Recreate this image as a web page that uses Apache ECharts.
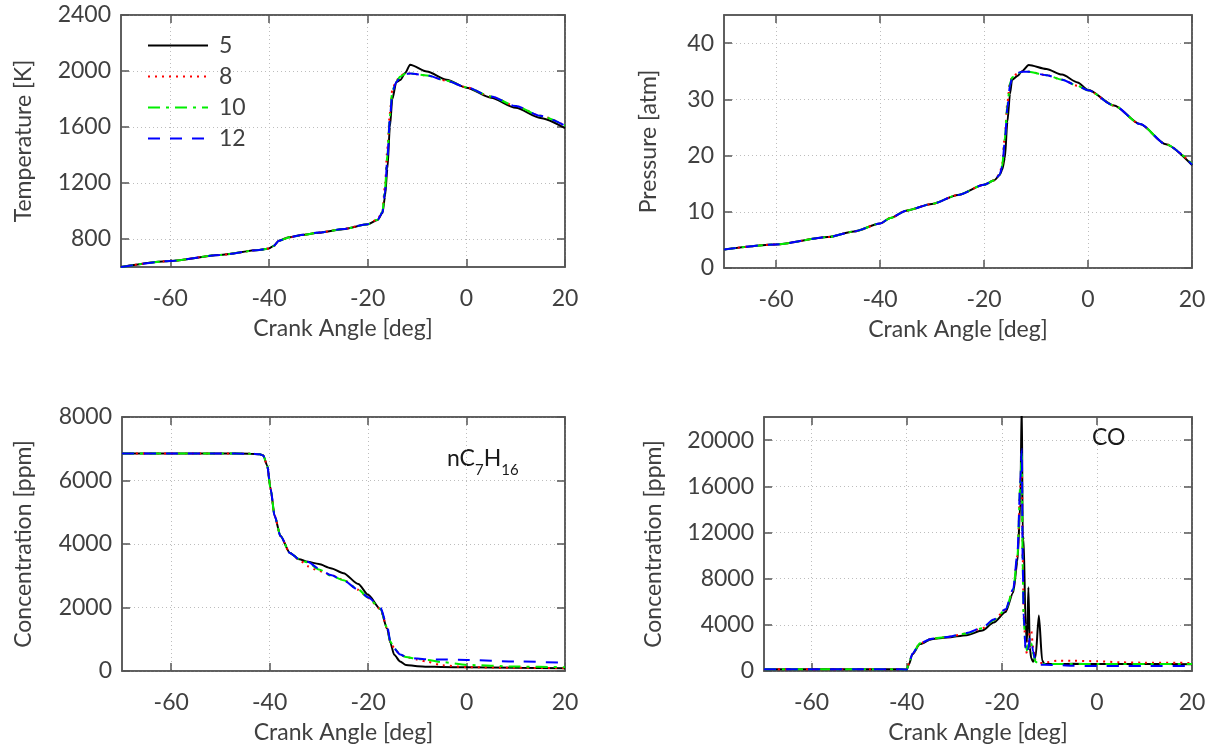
<!DOCTYPE html>
<html>
<head>
<meta charset="utf-8">
<script src="https://cdn.jsdelivr.net/npm/echarts@6/dist/echarts.min.js"></script>
<style>
  html, body { margin: 0; padding: 0; background: #fff; }
  #chart { width: 1220px; height: 754px; }
</style>
</head>
<body>
<div id="chart"></div>
<script>
// series names (legend)
const names = ['5', '8', '10', '12']

// temperature panel
const tAngle = [-70, -60, -50, -42, -40, -39, -38, -36, -33, -30, -25, -20, -18, -17, -16.5, -16, -15.5, -15, -14.2, -13.4, -12.4, -11.4, -8, -4, 0, 5, 10, 15, 20]
const temp5 = [600, 643, 686, 721, 733, 752, 788, 812, 830, 845, 870, 905, 935, 985, 1100, 1300, 1600, 1800, 1921, 1935, 1985, 2045, 1996, 1938, 1881, 1809, 1737, 1665, 1592]
const temp8 = [600, 643, 686, 721, 732, 750, 785, 810, 830, 846, 872, 906, 940, 1000, 1180, 1450, 1700, 1870, 1930, 1965, 1982, 1982, 1968, 1930, 1884, 1818, 1750, 1680, 1610]
const temp10 = [600, 643, 686, 721, 732, 751, 786, 811, 829, 845, 871, 905, 938, 995, 1150, 1400, 1680, 1860, 1925, 1960, 1980, 1982, 1968, 1930, 1884, 1818, 1750, 1680, 1610]
const temp12 = [600, 643, 686, 721, 733, 752, 787, 812, 830, 846, 871, 906, 937, 990, 1130, 1380, 1660, 1850, 1920, 1955, 1978, 1982, 1968, 1930, 1884, 1818, 1750, 1680, 1610]

// pressure panel
const pAngle = [-70, -60, -50, -45, -40, -38, -35, -30, -25, -20, -18, -17, -16.5, -16, -15.5, -15, -14.6, -13.5, -12.7, -11.4, -8, -5, -2, 0, 5, 10, 15, 20]
const pres5 = [3.3, 4.2, 5.5, 6.5, 7.9, 8.9, 10.2, 11.4, 13.0, 14.8, 15.6, 16.5, 17.5, 19.5, 26, 31, 33.5, 34.2, 35, 36.1, 35.4, 34.4, 33.0, 31.7, 28.9, 25.6, 22.0, 18.3]
const pres8 = [3.3, 4.2, 5.5, 6.5, 7.9, 8.9, 10.2, 11.4, 13.0, 14.8, 15.6, 16.7, 18.5, 23.5, 29.5, 33, 34, 34.6, 34.9, 34.9, 34.3, 33.5, 32.4, 31.6, 28.9, 25.6, 22.0, 18.5]
const pres10 = [3.3, 4.2, 5.5, 6.5, 7.9, 8.9, 10.2, 11.4, 13.0, 14.8, 15.6, 16.6, 18.2, 23, 29, 32.8, 33.9, 34.6, 34.9, 34.9, 34.3, 33.5, 32.4, 31.6, 28.9, 25.6, 22.0, 18.5]
const pres12 = [3.3, 4.2, 5.5, 6.5, 7.9, 8.9, 10.2, 11.4, 13.0, 14.8, 15.6, 16.6, 18.0, 22.5, 28.5, 32.5, 33.8, 34.7, 34.9, 34.9, 34.3, 33.5, 32.4, 31.6, 28.9, 25.6, 22.0, 18.4]

// nC7H16 panel
const nAngle = [-70, -60, -50, -44, -42, -41.3, -40.5, -39.8, -39, -37.8, -35.9, -34, -32.3, -30, -27.6, -25, -22, -20, -17.5, -16.1, -15.5, -14.7, -13.5, -12.3, -10, -8, -5, 0, 10, 20]
const hept5 = [6850, 6850, 6850, 6845, 6830, 6790, 6470, 5730, 4890, 4250, 3720, 3520, 3440, 3370, 3240, 3080, 2740, 2400, 1950, 1320, 900, 510, 300, 190, 150, 135, 125, 115, 100, 90]
const hept8 = [6850, 6850, 6850, 6845, 6830, 6790, 6470, 5730, 4890, 4250, 3720, 3500, 3300, 3150, 3030, 2870, 2560, 2300, 1950, 1330, 930, 720, 520, 440, 360, 290, 180, 120, 100, 90]
const hept10 = [6850, 6850, 6850, 6845, 6830, 6790, 6470, 5730, 4890, 4250, 3720, 3520, 3420, 3200, 3010, 2860, 2570, 2310, 1960, 1340, 930, 720, 520, 440, 380, 350, 280, 190, 140, 120]
const hept12 = [6850, 6850, 6850, 6845, 6830, 6790, 6470, 5730, 4890, 4250, 3720, 3520, 3440, 3230, 3020, 2850, 2560, 2320, 1990, 1400, 960, 700, 520, 450, 390, 370, 360, 350, 300, 260]

// CO panel
const cAngle = [-70, -50, -41, -40, -39.5, -38.8, -37.2, -34.7, -31.5, -27.4, -24.1, -21.7, -19.2, -17.6, -16.7, -16.1, -15.8, -15.6, -15.4, -15.0, -14.7, -14.4, -14.1, -13.8, -13.4, -12.9, -12.2, -11.5, -11, -8, -5, 0, 5, 10, 20]
const co5 = [150, 150, 150, 100, 600, 1450, 2330, 2760, 2900, 3100, 3500, 4200, 5100, 6800, 9500, 14500, 23500, 11700, 11400, 4000, 2500, 7250, 2000, 1100, 800, 1200, 4800, 900, 600, 600, 620, 600, 600, 600, 590]
const co8 = [150, 150, 150, 120, 650, 1500, 2400, 2800, 2950, 3250, 3700, 4400, 5300, 7000, 10000, 16000, 18500, 10000, 5000, 2000, 1500, 2500, 3500, 3480, 2000, 900, 700, 700, 750, 900, 880, 850, 750, 720, 700]
const co10 = [150, 150, 150, 120, 650, 1500, 2400, 2800, 2950, 3250, 3700, 4400, 5300, 7000, 10000, 16200, 19000, 9000, 4500, 2200, 1800, 2300, 2600, 2400, 1500, 800, 600, 600, 600, 600, 600, 600, 600, 600, 600]
const co12 = [150, 150, 150, 120, 650, 1500, 2400, 2800, 2950, 3300, 3750, 4450, 5350, 7100, 10200, 16500, 19200, 9500, 4800, 2000, 1500, 2000, 2900, 2600, 1700, 800, 550, 550, 550, 500, 450, 430, 430, 430, 430]

// tick values
const xTicks = [-60, -40, -20, 0, 20]
const tTicks = [800, 1200, 1600, 2000, 2400]
const pTicks = [0, 10, 20, 30, 40]
const nTicks = [0, 2000, 4000, 6000, 8000]
const cTicks = [0, 4000, 8000, 12000, 16000, 20000]

const FONT = 'Lato'
const FS = 23
const TEXT = '#404040'
const FRAME = '#555'

const styles = [
  { color: '#000000', type: 'solid' },
  { color: '#ff0000', type: [2, 5] },
  { color: '#00ee00', type: [12, 6, 3, 6] },
  { color: '#0000ff', type: [12, 10] }
]

function pairs (xs, ys) {
  return xs.map((x, i) => [x, ys[i]])
}

const panels = [
  { grid: { left: 121, top: 15, width: 444, height: 252 }, name: 'Temperature [K]', min: 600, max: 2400, ticks: tTicks, gap: 86, angle: tAngle, sets: [temp5, temp8, temp10, temp12] },
  { grid: { left: 724, top: 15, width: 468, height: 253 }, name: 'Pressure [atm]', min: 0, max: 45, ticks: pTicks, gap: 64, angle: pAngle, sets: [pres5, pres8, pres10, pres12] },
  { grid: { left: 122, top: 417, width: 443, height: 254 }, name: 'Concentration [ppm]', min: 0, max: 8000, ticks: nTicks, gap: 87, angle: nAngle, sets: [hept5, hept8, hept10, hept12] },
  { grid: { left: 764, top: 417, width: 428, height: 254 }, name: 'Concentration [ppm]', min: 0, max: 22000, ticks: cTicks, gap: 99, angle: cAngle, sets: [co5, co8, co10, co12] }
]

const grids = []
const xAxes = []
const yAxes = []
const series = []

panels.forEach((p, gi) => {
  grids.push(Object.assign({ show: true, borderColor: FRAME, borderWidth: 1.5 }, p.grid))
  // bottom/left axes plus mirrored top/right ones (ticks only)
  ;[false, true].forEach(mirror => {
    xAxes.push({
      type: 'value', gridIndex: gi, min: -70, max: 20,
      position: mirror ? 'top' : 'bottom',
      name: mirror ? '' : 'Crank Angle [deg]',
      nameLocation: 'middle', nameGap: 50,
      nameTextStyle: { fontFamily: FONT, fontSize: FS, color: TEXT },
      axisLine: { show: true, onZero: false, lineStyle: { color: FRAME, width: 1.5 } },
      axisTick: { show: true, inside: true, length: 8, customValues: xTicks, lineStyle: { color: FRAME, width: 1.5 } },
      axisLabel: { show: !mirror, customValues: xTicks, margin: 20, fontFamily: FONT, fontSize: FS, color: TEXT, formatter: v => String(v) },
      splitLine: { show: !mirror, lineStyle: { color: '#bdbdbd', type: [1, 3], width: 1 } }
    })
    yAxes.push({
      type: 'value', gridIndex: gi, min: p.min, max: p.max,
      position: mirror ? 'right' : 'left',
      name: mirror ? '' : p.name,
      nameLocation: 'middle', nameGap: p.gap,
      nameTextStyle: { fontFamily: FONT, fontSize: FS, color: TEXT },
      axisLine: { show: true, onZero: false, lineStyle: { color: FRAME, width: 1.5 } },
      axisTick: { show: true, inside: true, length: 8, customValues: p.ticks, lineStyle: { color: FRAME, width: 1.5 } },
      axisLabel: { show: !mirror, customValues: p.ticks, margin: 10, fontFamily: FONT, fontSize: FS, color: TEXT, formatter: v => String(v) },
      splitLine: { show: !mirror, lineStyle: { color: '#bdbdbd', type: [1, 3], width: 1 } }
    })
  })
  p.sets.forEach((vals, si) => {
    series.push({
      name: names[si],
      type: 'line',
      xAxisIndex: gi * 2,
      yAxisIndex: gi * 2,
      data: pairs(p.angle, vals),
      symbol: 'none',
      smooth: 0.25,
      smoothMonotone: 'x',
      animation: false,
      lineStyle: { color: styles[si].color, type: styles[si].type, width: 2 },
      itemStyle: { color: styles[si].color }
    })
  })
})

const chart = echarts.init(document.getElementById('chart'), null, { renderer: 'canvas' })
chart.setOption({
  backgroundColor: '#fff',
  animation: false,
  grid: grids,
  xAxis: xAxes,
  yAxis: yAxes,
  series: series,
  legend: {
    data: names,
    orient: 'vertical',
    left: 142,
    top: 29,
    itemWidth: 60,
    itemHeight: 14,
    itemGap: 8,
    selectedMode: false,
    itemStyle: { color: 'rgba(0,0,0,0)', borderWidth: 0, opacity: 0 },
    textStyle: { fontFamily: FONT, fontSize: FS, color: TEXT, padding: [0, 0, 0, 6] }
  },
  graphic: [
    {
      type: 'text', left: 447, top: 447,
      style: {
        text: '{a|nC}{s|7}{a|H}{s|16}',
        rich: {
          a: { fontFamily: FONT, fontSize: FS, fill: '#1a1a1a', verticalAlign: 'top', lineHeight: 26 },
          s: { fontFamily: FONT, fontSize: 15, fill: '#1a1a1a', verticalAlign: 'bottom', lineHeight: 31 }
        }
      }
    },
    {
      type: 'text', left: 1092, top: 426,
      style: { text: 'CO', font: FS + 'px ' + FONT, fill: '#1a1a1a' }
    }
  ]
})
</script>
</body>
</html>
